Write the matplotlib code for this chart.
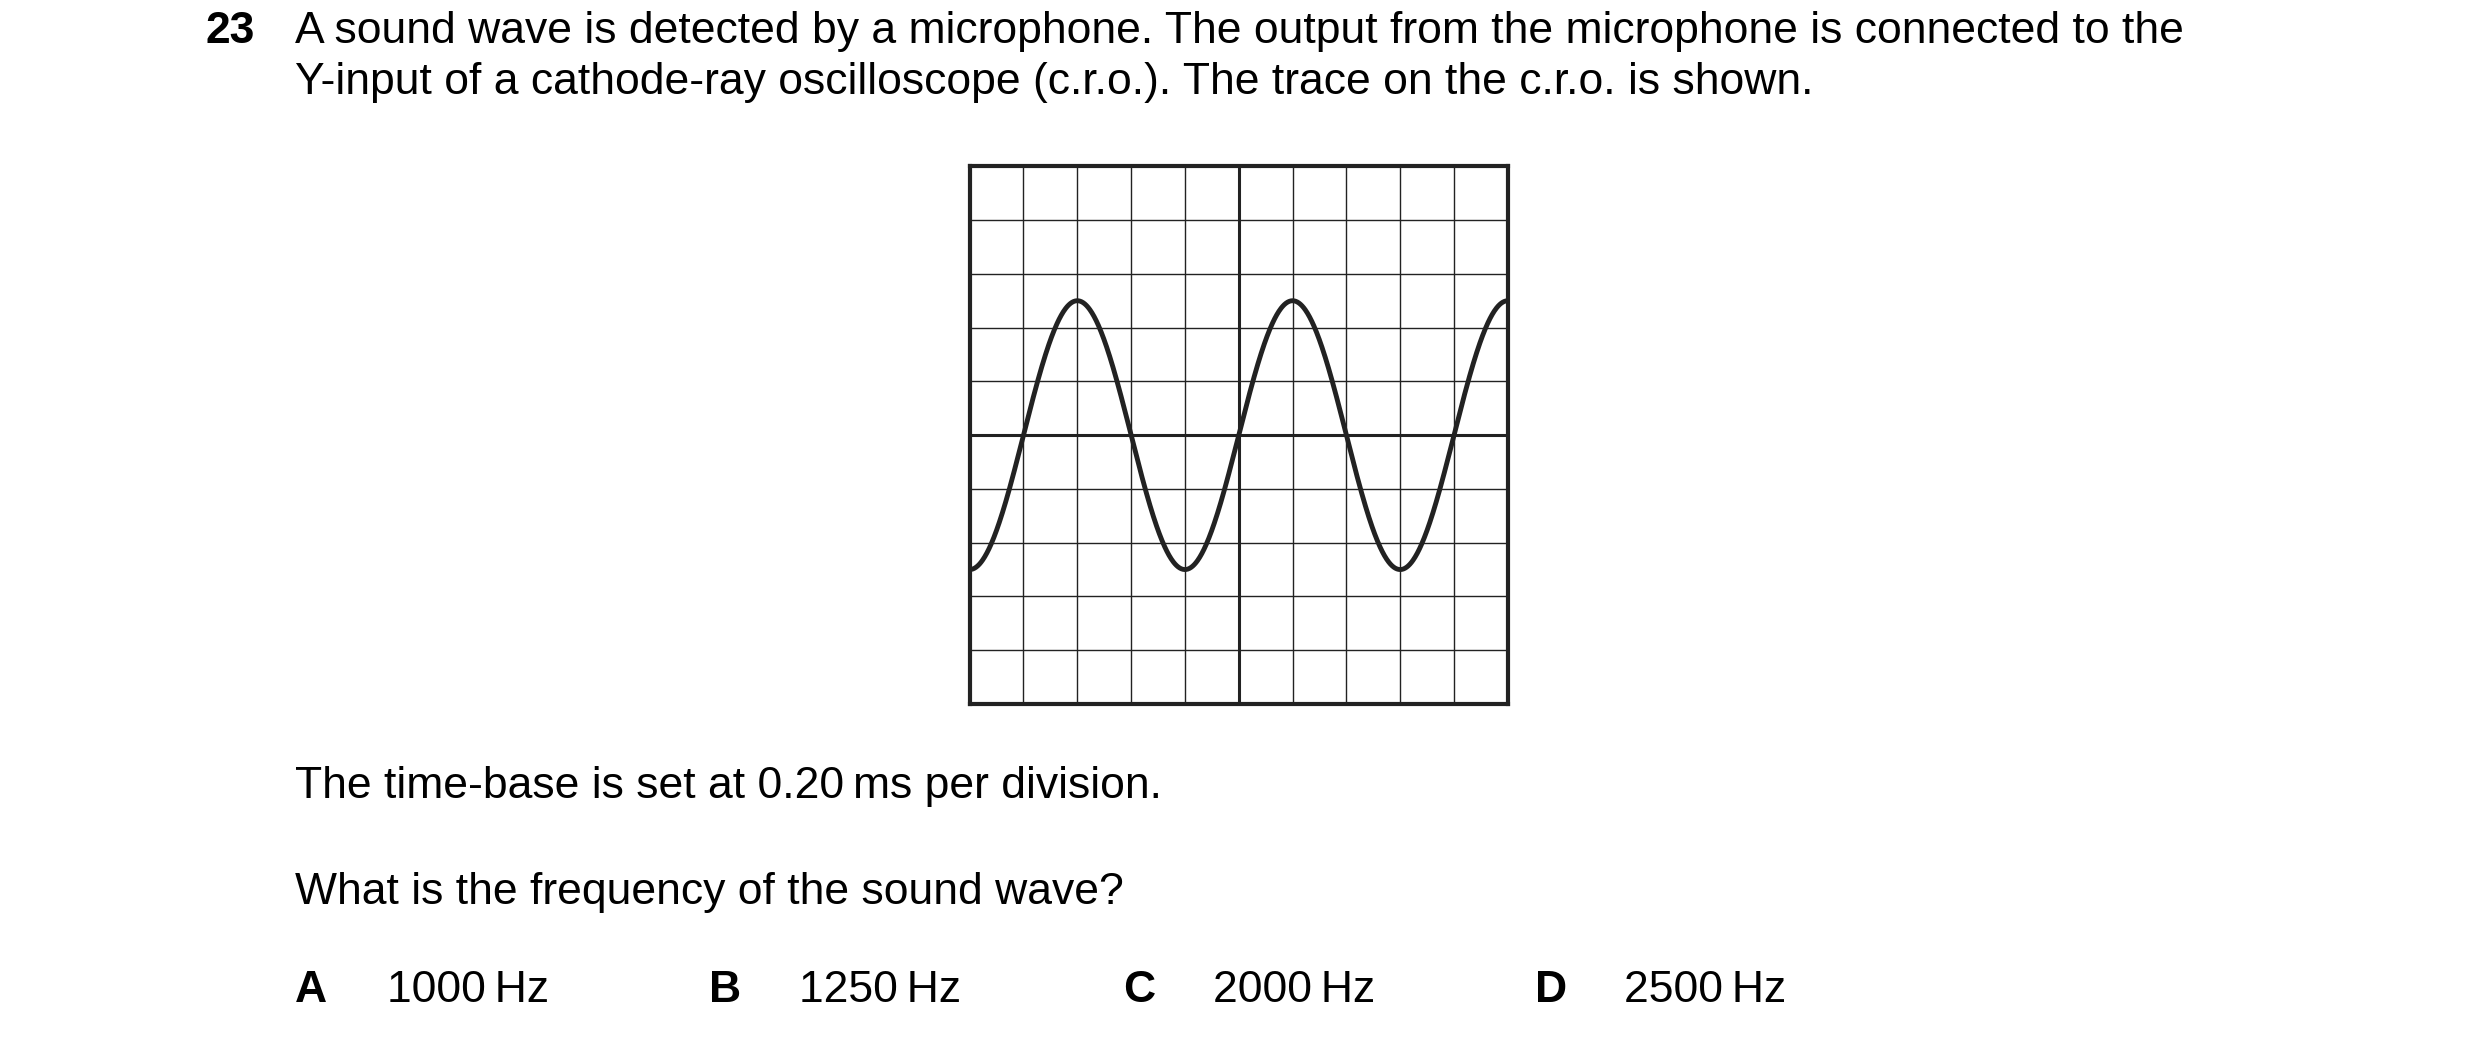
import numpy as np
import matplotlib
matplotlib.use("Agg")
import matplotlib.pyplot as plt

plt.rcParams['font.family'] = ['Liberation Sans', 'DejaVu Sans']

n_div = 10
amplitude_div = 2.5
period_div = 4.0
phase_div = 1.0
question_lines = ["A sound wave is detected by a microphone. The output from the microphone is connected to the",
                  "Y-input of a cathode-ray oscilloscope (c.r.o.). The trace on the c.r.o. is shown."]
option_letters = ["A", "B", "C", "D"]
option_values = ["1000\u2009Hz", "1250\u2009Hz", "2000\u2009Hz", "2500\u2009Hz"]

fig = plt.figure(figsize=(24.8, 10.46), dpi=100)
ax = fig.add_axes([0.391, 0.327, 0.217, 0.514])
ax.set_xlim(0, n_div)
ax.set_ylim(-n_div / 2, n_div / 2)
for i in range(1, n_div):
    lw = 2.2 if i == n_div // 2 else 1.0
    ax.axvline(i, color='#222222', lw=lw)
    ax.axhline(i - n_div / 2, color='#222222', lw=lw)
for s in ax.spines.values():
    s.set_linewidth(3)
    s.set_color('#222222')
ax.set_xticks([]); ax.set_yticks([])
x = np.linspace(0, n_div, 1000)
y = amplitude_div * np.sin(2 * np.pi * (x - phase_div) / period_div)
ax.plot(x, y, color='#222222', lw=3.5)

fs = 32
fig.text(0.083, 0.970, "23", fontsize=fs, fontweight='bold', va='center')
fig.text(0.119, 0.970, question_lines[0], fontsize=fs, va='center')
fig.text(0.119, 0.921, question_lines[1], fontsize=fs, va='center')
fig.text(0.119, 0.248, "The time-base is set at 0.20\u2009ms per division.", fontsize=fs, va='center')
fig.text(0.119, 0.147, "What is the frequency of the sound wave?", fontsize=fs, va='center')
lx = [0.119, 0.286, 0.453, 0.619]
vx = [0.156, 0.322, 0.489, 0.655]
for L, V, a, b in zip(option_letters, option_values, lx, vx):
    fig.text(a, 0.053, L, fontsize=fs, fontweight='bold', va='center')
    fig.text(b, 0.053, V, fontsize=fs, va='center')

fig.savefig("out.png", dpi=100, facecolor='white')
